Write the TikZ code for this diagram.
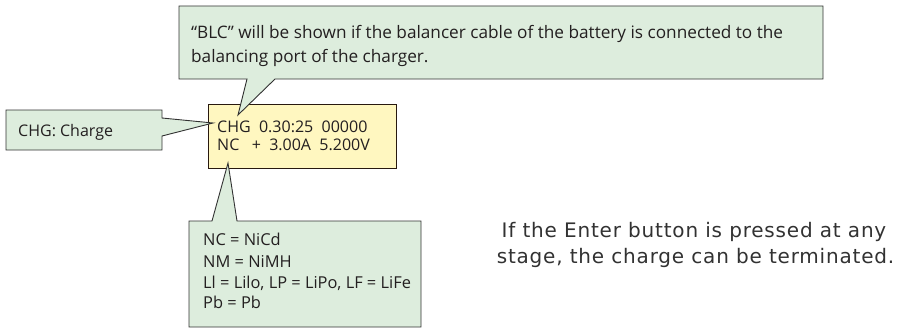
\documentclass[tikz,border=0pt]{standalone}
\usepackage{fontspec}
\setmainfont{Open Sans}
\newfontfamily\verdanalike[LetterSpace=4]{DejaVu Sans}
\definecolor{calloutfill}{RGB}{221,237,221}
\definecolor{lcdfill}{RGB}{255,247,192}
\definecolor{edge}{RGB}{50,50,50}
\definecolor{lcdedge}{RGB}{40,25,15}
\definecolor{ink}{RGB}{35,31,32}
\definecolor{bodyink}{RGB}{50,50,50}
\tikzset{
  callout/.style={fill=calloutfill, draw=edge, line width=0.9pt, line join=miter},
  lcd/.style={fill=lcdfill, draw=lcdedge, line width=0.9pt},
  txtsmall/.style={anchor=base west, inner sep=0pt, text=ink, font=\fontsize{17.2}{20}\selectfont},
  txt/.style={anchor=base west, inner sep=0pt, text=ink, font=\fontsize{16}{18}\selectfont},
  txtlist/.style={anchor=base west, inner sep=0pt, text=ink, font=\fontsize{16.4}{18}\selectfont},
  body/.style={anchor=base, inner sep=0pt, text=bodyink, font=\verdanalike\fontsize{20}{22}\selectfont}
}
\begin{document}
\begin{tikzpicture}[x=1pt,y=-1pt]
\useasboundingbox (0,0) rectangle (901,329);
% LCD display
\node[lcd, minimum width=188pt, minimum height=64pt, anchor=north west, inner sep=0pt] (lcd) at (208,104) {};
\node[txt] (l1) at (217,132) {CHG\ \ 0.30:25\ \ 00000};
\node[txt] (l2) at (217,150) {NC\ \ \ +\ \ 3.00A\ \ 5.200V};
% pointer tips
\coordinate (tipblc) at (238,115);
\coordinate (tipchg) at (213,123);
\coordinate (tiptype) at (228,163);
% top callout
\draw[callout] (179,6) -- (823,6) -- (823,79) -- (275,79) -- (tipblc) -- (247,79) -- (179,79) -- cycle;
\node[txtsmall] (blc1) at (191,39) {“BLC” will be shown if the balancer cable of the battery is connected to the};
\node[txtsmall] (blc2) at (191,63) {balancing port of the charger.};
% CHG callout
\draw[callout] (6,110) -- (162,110) -- (162,118) -- (tipchg) -- (162,136) -- (162,150) -- (6,150) -- cycle;
\node[txt] (chg) at (18,136) {CHG: Charge};
% battery type callout
\draw[callout] (189,221) -- (212,221) -- (tiptype) -- (237,221) -- (421,221) -- (421,327) -- (189,327) -- cycle;
\node[txtlist] (t1) at (203,245) {NC = NiCd};
\node[txtlist] (t2) at (203,267) {NM = NiMH};
\node[txtlist] (t3) at (203,288) {Ll = Lilo, LP = LiPo, LF = LiFe};
\node[txtlist] (t4) at (203,308) {Pb = Pb};
% body text
\node[body] (b1) at (694,237) {If the Enter button is pressed at any};
\node[body] (b2) at (695.5,263) {stage, the charge can be terminated.};
\end{tikzpicture}
\end{document}
